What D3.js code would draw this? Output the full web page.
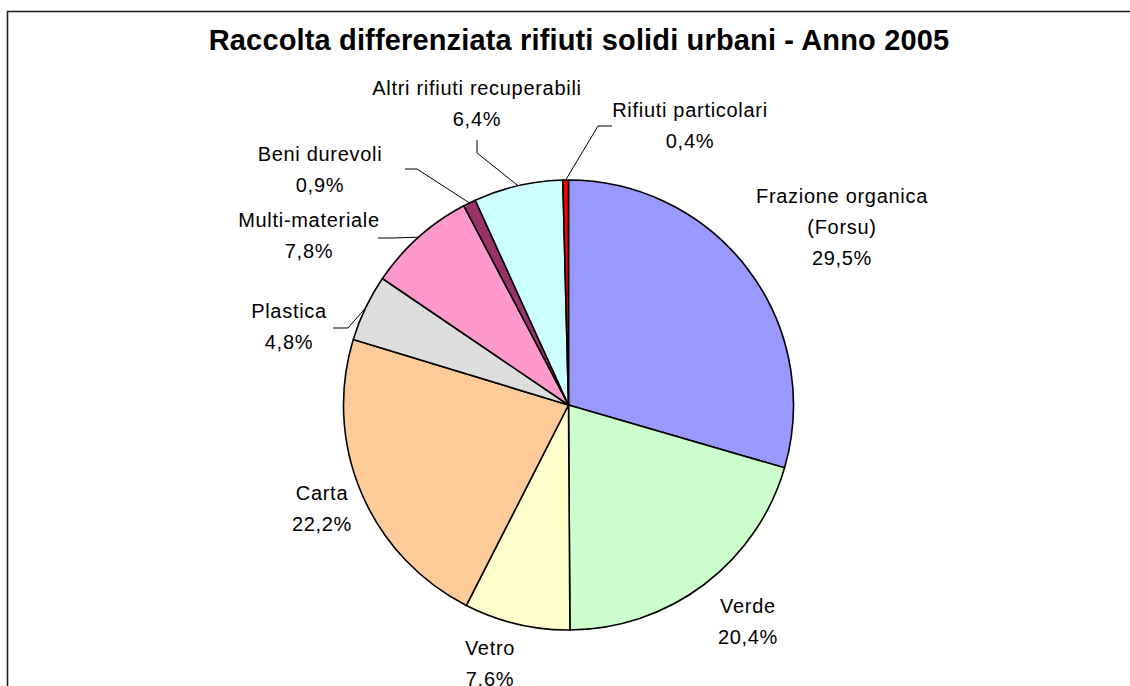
<!DOCTYPE html>
<html>
<head>
<meta charset="utf-8">
<script src="https://cdn.jsdelivr.net/npm/d3@7"></script>
<style>
  html, body { margin: 0; padding: 0; background: #fff; }
  svg { display: block; }
  text { font-family: "Liberation Sans", Arial, sans-serif; fill: #000; }
</style>
</head>
<body>
<svg id="chart" width="1130" height="686"></svg>
<script>
// ---- data ----
const categories = ["Frazione organica (Forsu)", "Verde", "Vetro", "Carta", "Plastica",
  "Multi-materiale", "Beni durevoli", "Altri rifiuti recuperabili", "Rifiuti particolari"];
const labelLines = [["Frazione organica", "(Forsu)"], ["Verde"], ["Vetro"], ["Carta"], ["Plastica"],
  ["Multi-materiale"], ["Beni durevoli"], ["Altri rifiuti recuperabili"], ["Rifiuti particolari"]];
const values = [29.5, 20.4, 7.6, 22.2, 4.8, 7.8, 0.9, 6.4, 0.4];
const colors = ["#9999FF", "#CCFFCC", "#FFFFCC", "#FFCC99", "#DDDDDD", "#FF99CC", "#993366", "#CCFFFF", "#FF0000"];
const title = "Raccolta differenziata rifiuti solidi urbani - Anno 2005";

// ---- layout (label placement, leader elbows) ----
const labelPos = [[842, 196], [748, 606], [490, 648], [322, 493], [289, 311], [309, 220], [320, 154], [477, 88], [690, 110]];
const leaders = { 4: [[333, 328], [348, 328]], 5: [[378, 238], [392, 238]], 6: [[405, 169], [417, 169]],
  7: [[477, 140], [477, 153]], 8: [[612, 126], [598, 126]] };

const W = 1130, H = 686;
const cx = 568.5, cy = 405, R = 225;
const svg = d3.select("#chart");

svg.append("rect").attr("x", 7.5).attr("y", 11.5).attr("width", 1300).attr("height", 900)
  .attr("fill", "none").attr("stroke", "#222").attr("stroke-width", 1.6);

svg.append("text").attr("x", 579).attr("y", 50).attr("text-anchor", "middle")
  .attr("font-size", 29).attr("font-weight", "bold").attr("letter-spacing", 0.15).text(title);

const pie = d3.pie().sort(null).value(d => d)(values);
const arc = d3.arc().innerRadius(0).outerRadius(R);
const g = svg.append("g").attr("transform", `translate(${cx},${cy})`);

g.selectAll("path").data(pie).join("path")
  .attr("d", arc).attr("fill", (d, i) => colors[i])
  .attr("stroke", "#000").attr("stroke-width", 1.6).attr("stroke-linejoin", "round");

const fmt = v => d3.format(".1f")(v).replace(".", ",") + "%";

// leader lines
pie.forEach((d, i) => {
  if (!leaders[i]) return;
  const a = (d.startAngle + d.endAngle) / 2;
  const px = cx + R * Math.sin(a), py = cy - R * Math.cos(a);
  const pts = leaders[i].concat([[px, py]]);
  svg.append("path").attr("d", d3.line()(pts)).attr("fill", "none")
    .attr("stroke", "#000").attr("stroke-width", 1);
});

// labels
const lh = 31;
labelLines.forEach((lines, i) => {
  const [x, y] = labelPos[i];
  const all = lines.concat([fmt(values[i])]);
  all.forEach((t, j) => {
    svg.append("text").attr("x", x).attr("y", y + j * lh + 7)
      .attr("text-anchor", "middle").attr("font-size", 20).attr("letter-spacing", 0.7).text(t);
  });
});
</script>
</body>
</html>
